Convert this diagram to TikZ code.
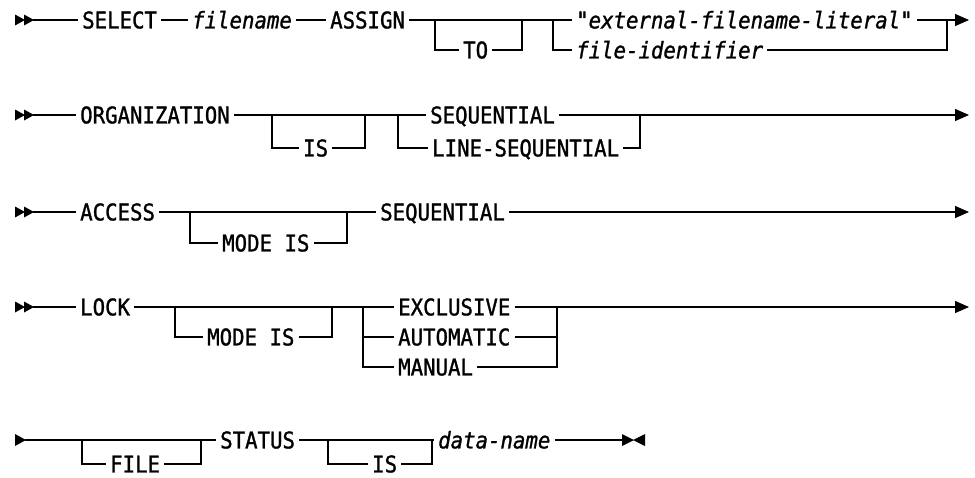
\documentclass[tikz,border=0pt]{standalone}
\usepackage{fontspec}
\newfontfamily\railfont[FakeBold=1.2,FakeStretch=0.9]{DejaVu Sans Mono}
\usetikzlibrary{arrows.meta}

\tikzset{
  lbl/.style={font=\railfont\fontsize{23}{25}\selectfont, inner xsep=4pt, inner ysep=0pt,
              text height=16.8pt, text depth=0pt, anchor=west},
  var/.style={lbl, font=\railfont\itshape\fontsize{23}{25}\selectfont},
  rail/.style={line width=1.3pt, line join=miter},
  endarrow/.style={rail, -{Triangle[length=14pt,width=12pt]}},
  dblstart/.pic={\fill (0,-5.5) -- (10,0) -- (0,5.5) -- cycle;
                 \fill (9,-5.5) -- (19,0) -- (9,5.5) -- cycle;},
  onestart/.pic={\fill (0,-6) -- (11,0) -- (0,6) -- cycle;},
  stopmark/.pic={\fill (0,-6) -- (12,0) -- (0,6) -- cycle;
                 \fill (23,-6) -- (11,0) -- (23,6) -- cycle;},
}

\begin{document}
\begin{tikzpicture}[x=1pt,y=-1pt]
\useasboundingbox (0,0) rectangle (975,477);

% ---------- SELECT filename ASSIGN ----------
\pic at (15,20) {dblstart};
\coordinate (s1) at (33,20);
\node[lbl] (sel) at (78,20) {SELECT};
\node[var] (fn) at (188,20) {filename};
\node[lbl] (asg) at (326,20) {ASSIGN};
\node[lbl] (to) at (459,50) {TO};
\node[var] (lit) at (572,20) {"external-filename-literal"};
\node[var] (fid) at (572,50) {file-identifier};
\coordinate (a1) at (435,20);  \coordinate (a2) at (522,20);
\coordinate (b1) at (553,20);  \coordinate (r1) at (947,20);
\coordinate (e1) at (969,20);
\draw[rail] (s1) -- (sel.west);
\draw[rail] (sel.east) -- (fn.west);
\draw[rail] (fn.east) -- (asg.west);
\draw[rail] (asg.east) -- (lit.west);
\draw[rail] (a1) |- (to.west);
\draw[rail] (to.east) -| (a2);
\draw[rail] (b1) |- (fid.west);
\draw[rail] (lit.east) -- (r1);
\draw[rail] (fid.east) -| (r1);
\draw[endarrow] (r1) -- (e1);

% ---------- ORGANIZATION ----------
\pic at (15,115) {dblstart};
\coordinate (s2) at (33,115);
\node[lbl] (org) at (76,115) {ORGANIZATION};
\node[lbl] (is2) at (299,148) {IS};
\node[lbl] (seq2) at (426,115) {SEQUENTIAL};
\node[lbl] (lseq) at (428,148) {LINE-SEQUENTIAL};
\coordinate (c1) at (272,115);  \coordinate (c2) at (365,115);
\coordinate (d1) at (398,115);  \coordinate (r2) at (640,115);
\coordinate (e2) at (969,115);
\draw[rail] (s2) -- (org.west);
\draw[rail] (org.east) -- (seq2.west);
\draw[rail] (c1) |- (is2.west);
\draw[rail] (is2.east) -| (c2);
\draw[rail] (d1) |- (lseq.west);
\draw[rail] (lseq.east) -| (r2);
\draw[endarrow] (seq2.east) -- (e2);

% ---------- ACCESS ----------
\pic at (15,212) {dblstart};
\coordinate (s3) at (33,212);
\node[lbl] (acc) at (76,212) {ACCESS};
\node[lbl] (mode3) at (218,243) {MODE IS};
\node[lbl] (seq3) at (376,212) {SEQUENTIAL};
\coordinate (f1) at (190,212);  \coordinate (f2) at (347,212);
\coordinate (e3) at (969,212);
\draw[rail] (s3) -- (acc.west);
\draw[rail] (acc.east) -- (seq3.west);
\draw[rail] (f1) |- (mode3.west);
\draw[rail] (mode3.east) -| (f2);
\draw[endarrow] (seq3.east) -- (e3);

% ---------- LOCK ----------
\pic at (15,307) {dblstart};
\coordinate (s4) at (33,307);
\node[lbl] (lock) at (76,307) {LOCK};
\node[lbl] (mode4) at (203,337) {MODE IS};
\node[lbl] (excl) at (394,307) {EXCLUSIVE};
\node[lbl] (auto) at (394,337) {AUTOMATIC};
\node[lbl] (man) at (394,367) {MANUAL};
\coordinate (g1) at (175,307);  \coordinate (g2) at (332,307);
\coordinate (h1) at (363,307);  \coordinate (h2) at (363,337);
\coordinate (r4) at (557,307);  \coordinate (r4b) at (557,337);
\coordinate (e4) at (969,307);
\draw[rail] (s4) -- (lock.west);
\draw[rail] (lock.east) -- (excl.west);
\draw[rail] (g1) |- (mode4.west);
\draw[rail] (mode4.east) -| (g2);
\draw[rail] (h1) |- (man.west);
\draw[rail] (h2) -- (auto.west);
\draw[rail] (auto.east) -- (r4b);
\draw[rail] (man.east) -| (r4);
\draw[endarrow] (excl.east) -- (e4);

% ---------- FILE STATUS IS data-name ----------
\pic at (15,440) {onestart};
\coordinate (s5) at (25,440);
\node[lbl] (file) at (106,464) {FILE};
\node[lbl] (stat) at (216,440) {STATUS};
\node[lbl] (is5) at (368,464) {IS};
\node[var] (dn) at (434,440) {data-name};
\coordinate (k1) at (82,440);   \coordinate (k2) at (201,440);
\coordinate (m1) at (328,440);  \coordinate (m2) at (432,440);
\coordinate (stop) at (622,440);
\draw[rail] (s5) -- (stat.west);
\draw[rail] (k1) |- (file.west);
\draw[rail] (file.east) -| (k2);
\draw[rail] (stat.east) -- (dn.west);
\draw[rail] (m1) |- (is5.west);
\draw[rail] (is5.east) -| (m2);
\draw[rail] (dn.east) -- (stop);
\pic at (stop) {stopmark};
\end{tikzpicture}
\end{document}
